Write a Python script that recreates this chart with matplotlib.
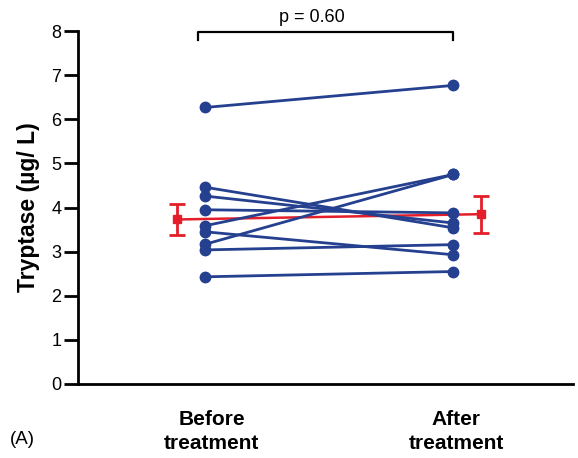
import matplotlib.pyplot as plt

# tryptase values per patient (µg/L)
before = [6.27, 4.46, 4.26, 3.95, 3.59, 3.45, 3.17, 3.04, 2.43]
after = [6.77, 3.54, 3.65, 3.88, 4.75, 2.93, 4.75, 3.16, 2.55]

# group mean +/- error
means = [3.73, 3.85]
errors = [0.36, 0.42]

categories = ['Before\ntreatment', 'After\ntreatment']
p_text = 'p = 0.60'

blue = '#25408f'
red = '#e31e2a'

plt.rcParams['font.family'] = ['Liberation Sans', 'DejaVu Sans']

fig = plt.figure(figsize=(5.78, 4.58), dpi=100)
ax = fig.add_axes([0.1350, 0.1616, 0.8560, 0.7704])

# paired lines
for b, a in zip(before, after):
    ax.plot([0, 1], [b, a], color=blue, lw=2.0, marker='o', ms=7.5,
            mfc=blue, mec=blue, zorder=3)

# means with error bars, drawn beside the columns
mx = [-0.115, 1.11]
ax.plot(mx, means, color=red, lw=1.8, zorder=2)
ax.errorbar(mx, means, yerr=errors, fmt='s', color=red, ms=6,
            elinewidth=2, capsize=6, capthick=2, zorder=4)

ax.set_xlim(-0.514, 1.482)
ax.set_ylim(0, 8)
ax.set_yticks(range(0, 9))
ax.set_xticks([0.025, 1.012])
ax.set_xticklabels(categories, fontsize=15, fontweight='bold', linespacing=1.3)
ax.tick_params(axis='x', length=0, pad=19)
ax.tick_params(axis='y', length=10, width=2, labelsize=13, pad=2)
ax.set_ylabel('Tryptase (µg/ L)', fontsize=16.5, fontweight='bold', labelpad=8)

for s in ['top', 'right']:
    ax.spines[s].set_visible(False)
for s in ['left', 'bottom']:
    ax.spines[s].set_linewidth(2)

# significance bracket
ax.plot([-0.03, -0.03, 1, 1], [7.8, 7.99, 7.99, 7.8], color='black', lw=1.6,
        clip_on=False)
ax.text(0.43, 8.12, p_text, ha='center', va='bottom', fontsize=13)

fig.text(0.017, 0.03, '(A)', fontsize=13.5)

fig.savefig('out.png', dpi=100)
